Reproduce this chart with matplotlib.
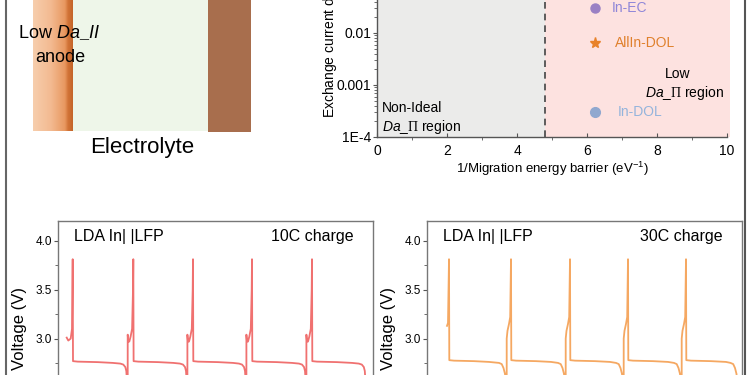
import numpy as np
import matplotlib.pyplot as plt
from matplotlib.lines import Line2D
from matplotlib.patches import Rectangle
from matplotlib.ticker import MultipleLocator, AutoMinorLocator

plt.rcParams['font.family'] = ['Liberation Sans', 'DejaVu Sans']
plt.rcParams['mathtext.fontset'] = 'custom'
plt.rcParams['mathtext.rm'] = 'Liberation Serif'
plt.rcParams['mathtext.it'] = 'Liberation Sans:italic'
plt.rcParams['mathtext.sf'] = 'Liberation Sans'

# ---- data: Da_II map (top right) ----
samples = ['In-EC', 'AllIn-DOL', 'In-DOL']
inv_barrier = [6.23, 6.23, 6.23]          # 1/migration barrier (eV^-1)
exch_current = [0.030, 0.0065, 0.0003]    # exchange current density
ideal_limit = 4.8                         # dashed boundary

# ---- data: charge curves (bottom) ----
# spike times of each cycle (arbitrary time units) and time where the trace ends
spikes_10c = [1.47, 7.53, 13.5, 19.4, 25.4]
end_10c = 30.8
spikes_30c = [2.2, 8.4, 14.3, 20.1, 25.9]
end_30c = 31.1

# 10C cycle pieces: (offset from spike, voltage)
start_10c = [(-0.60, 3.01), (-0.44, 2.98), (-0.20, 3.00), (-0.07, 3.10)]
rise_10c = [(-0.56, 2.45), (-0.56, 3.04), (-0.50, 2.97), (-0.40, 2.97),
            (-0.27, 3.02), (-0.12, 3.10), (-0.03, 3.50)]
top_10c = [(0.0, 3.81), (0.03, 2.77), (0.5, 2.765), (2.5, 2.76), (4.0, 2.752)]
dip_10c = [(-1.30, 2.745), (-1.00, 2.735), (-0.80, 2.71), (-0.70, 2.67),
           (-0.62, 2.55), (-0.58, 2.45)]   # offset from next spike

# 30C cycle pieces
start_30c = [(-0.20, 3.13), (-0.10, 3.16)]
rise_30c = [(-0.43, 2.45), (-0.43, 3.00), (-0.35, 3.08), (-0.20, 3.15),
            (-0.08, 3.22)]
top_30c = [(0.0, 3.81), (0.03, 2.78), (0.5, 2.775), (2.5, 2.77), (4.0, 2.762)]
dip_30c = [(-1.20, 2.752), (-0.93, 2.74), (-0.75, 2.70), (-0.60, 2.64),
           (-0.50, 2.52), (-0.45, 2.45)]


def build_curve(spikes, end, start, rise, top, dip):
    pts = []
    nxt = spikes[1:] + [end - dip[-1][0]]
    for i, s in enumerate(spikes):
        piece = start if i == 0 else rise
        pts += [(s + dt, v) for dt, v in piece]
        pts += [(s + dt, v) for dt, v in top]
        pts += [(nxt[i] + dt, v) for dt, v in dip]
    pts = np.array(pts)
    return pts[:, 0], pts[:, 1]


fig = plt.figure(figsize=(7.5, 3.75), dpi=100)
W, H = 750.0, 375.0


def frac(x0, y0, x1, y1):
    # pixel box -> figure fraction [left, bottom, width, height]
    return [x0 / W, 1 - y1 / H, (x1 - x0) / W, (y1 - y0) / H]


# ---- canvas for the schematic and frame ----
cv = fig.add_axes([0, 0, 1, 1])
cv.set_xlim(0, W)
cv.set_ylim(H, 0)
cv.axis('off')

stops = [0.0, 0.45, 0.80, 0.88, 1.0]
cols = np.array([[247, 206, 173], [243, 186, 145], [232, 152, 96],
                 [210, 116, 56], [196, 100, 40]]) / 255.0
g = np.linspace(0, 1, 200)
grad = np.stack([np.interp(g, stops, cols[:, k]) for k in range(3)], axis=-1)[None, :, :]
cv.imshow(grad, extent=(33, 73, 131, -5), aspect='auto', zorder=1)
cv.add_patch(Rectangle((73, -5), 135, 136, facecolor='#eef6e9', edgecolor='none', zorder=1))
cv.add_patch(Rectangle((208, -5), 43, 137, facecolor='#a86e4d', edgecolor='none', zorder=1))
cv.text(18, 33, r'Low $\mathit{Da\_II}$', fontsize=13, ha='left', va='center', zorder=3)
cv.text(60, 57, 'anode', fontsize=13, ha='center', va='center', zorder=3)
cv.text(142, 148, 'Electrolyte', fontsize=16, ha='center', va='center', zorder=3)
cv.add_line(Line2D([6, 6], [0, H], color='#666666', lw=1.5))
cv.add_line(Line2D([745, 745], [0, H], color='#555555', lw=1.5))

# ---- Da_II map ----
ax = fig.add_axes(frac(377, 137 - 4 * 52, 727, 137))
ax.set_yscale('log')
ax.set_xlim(0, 10)
ax.set_ylim(1e-4, 1)
ax.axvspan(0, ideal_limit, color='#ebebea', lw=0, zorder=0)
ax.axvspan(ideal_limit, 10.08, color='#fde2e0', lw=0, zorder=0, clip_on=False)
ax.axvline(ideal_limit, color='#444444', lw=1.2, ls=(0, (4, 3)))
styles = [dict(marker='o', color='#9a80c4', ms=6.5, tc='#8f86d8', off=12),
          dict(marker='*', color='#e8822a', ms=8, tc='#e0802c', off=14),
          dict(marker='o', color='#90a8cf', ms=7, tc='#94b4dc', off=16)]
for name, xv, yv, st in zip(samples, inv_barrier, exch_current, styles):
    ax.plot([xv], [yv], ls='none', marker=st['marker'], color=st['color'],
            ms=st['ms'], mec=st['color'], clip_on=False)
    ax.annotate(name, (xv, yv), xytext=(st['off'], 0), textcoords='offset points',
                ha='left', va='center', fontsize=10, color=st['tc'])
ax.text(382, 108, 'Non-Ideal', fontsize=10, ha='left', va='center',
        transform=cv.transData)
ax.text(382, 127, r'$\mathit{Da}$_$\Pi$ region', fontsize=10, ha='left', va='center',
        transform=cv.transData)
ax.text(678, 74, 'Low', fontsize=10, ha='center', va='center', transform=cv.transData)
ax.text(724, 93, r'$\mathit{Da}$_$\Pi$ region', fontsize=10, ha='right', va='center',
        transform=cv.transData)
ax.set_xticks([0, 2, 4, 6, 8, 10])
ax.xaxis.set_minor_locator(MultipleLocator(1))
ax.set_yticks([1e-4, 1e-3, 1e-2, 1e-1, 1])
ax.set_yticklabels(['1E-4', '0.001', '0.01', '0.1', '1'])
ax.tick_params(axis='both', labelsize=10, color='#555555', length=3, width=0.8, pad=1)
ax.tick_params(axis='x', direction='in', pad=5)
ax.tick_params(which='minor', length=2, color='#555555')
for s in ['top', 'right']:
    ax.spines[s].set_visible(False)
for s in ['left', 'bottom']:
    ax.spines[s].set_color('#555555')
    ax.spines[s].set_linewidth(1.0)
ax.set_xlabel(r'1/Migration energy barrier (eV$^{\mathsf{-1}}$)', fontsize=9.5, labelpad=1)
fig.text(330 / W, 1 - 118 / H, r'Exchange current density (mA cm$^{\mathsf{-2}}$)',
         rotation=90, ha='center', va='bottom', fontsize=10)

# ---- charge curves ----
panels = [
    (frac(58, 221, 373, 221 + 98 * 2.2), '10C charge', '#f07170',
     build_curve(spikes_10c, end_10c, start_10c, rise_10c, top_10c, dip_10c)),
    (frac(427, 221, 742, 221 + 98 * 2.2), '30C charge', '#f5a862',
     build_curve(spikes_30c, end_30c, start_30c, rise_30c, top_30c, dip_30c)),
]
for box, rate, col, (t, v) in panels:
    bx = fig.add_axes(box)
    bx.plot(t, v, color=col, lw=1.3)
    bx.set_xlim(0, 31.5)
    bx.set_ylim(2.0, 4.2)
    bx.yaxis.set_major_locator(MultipleLocator(0.5))
    bx.yaxis.set_minor_locator(AutoMinorLocator(2))
    bx.yaxis.set_major_formatter('{x:.1f}')
    bx.tick_params(axis='y', labelsize=8.5, length=3, width=0.8, color='#555555', pad=1.5)
    bx.tick_params(axis='y', which='minor', length=2, color='#555555')
    bx.set_xticks([])
    for s in bx.spines.values():
        s.set_color('#777777')
        s.set_linewidth(1.0)
    bx.set_ylabel('Voltage (V)', fontsize=12, labelpad=6)
    bx.text(0.05, 0.93, 'LDA In| |LFP', transform=bx.transAxes, fontsize=11.5,
            ha='left', va='center')
    bx.text(0.94, 0.93, rate, transform=bx.transAxes, fontsize=11.5,
            ha='right', va='center')

fig.savefig('out.png', dpi=100)
